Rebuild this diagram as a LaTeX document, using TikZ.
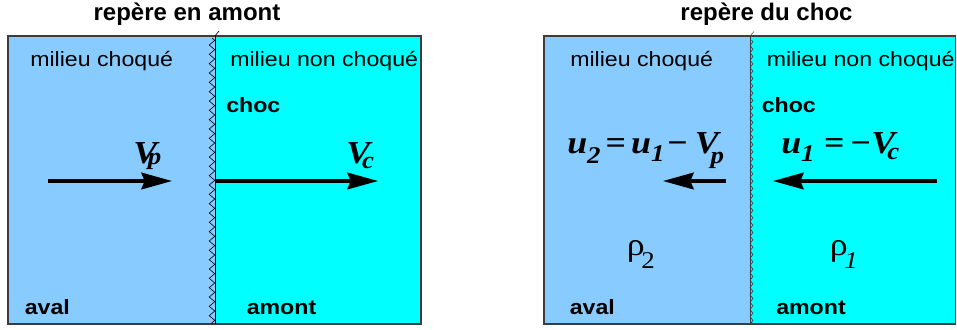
\documentclass[tikz,border=0pt]{standalone}
\usepackage{fontspec}
\setmainfont{Liberation Serif}
\newfontfamily\lsans[FakeStretch=1.12]{Liberation Sans}
\newfontfamily\tsans{Liberation Sans}
\newfontfamily\mfont[FakeStretch=1.12]{Liberation Serif}
\usetikzlibrary{arrows.meta,decorations.pathmorphing}
\definecolor{avalc}{RGB}{136,204,255}
\definecolor{amontc}{RGB}{0,255,255}
\definecolor{bord}{RGB}{60,60,60}
\newcommand\msub[2]{\raisebox{-#1}{\fontsize{18}{18}\selectfont #2}}
\newcommand\mminus{\char"2212}
\tikzset{
 lab/.style={anchor=base west, inner sep=0pt, font=\lsans\fontsize{15.5}{18}\selectfont},
 labb/.style={anchor=base west, inner sep=0pt, font=\lsans\bfseries\fontsize{15.5}{18}\selectfont},
 ttl/.style={anchor=base, inner sep=0pt, font=\tsans\bfseries\fontsize{18}{20}\selectfont},
 mth/.style={anchor=base west, inner sep=0pt, font=\mfont\bfseries\itshape\fontsize{24}{26}\selectfont},
 rho/.style={anchor=base west, inner sep=0pt, font=\mfont\fontsize{24}{26}\selectfont},
 arr/.style={line width=2.4pt, -{Stealth[length=23pt,width=12.5pt,inset=2.5pt]}},
 panel/.style={draw=bord, line width=1.1pt},
 shockline/.style={line width=0.5pt, black},
 teeth/.style={line width=0.45pt, black, decorate, decoration={zigzag, segment length=7pt, amplitude=2.1pt}},
 teethr/.style={line width=0.45pt, black!75, decorate, decoration={zigzag, segment length=5.5pt, amplitude=1.1pt}},
}
\begin{document}
\begin{tikzpicture}[x=0.75pt,y=-0.75pt]
\useasboundingbox (0,0) rectangle (957,329);
% ---------- left panel ----------
\fill[avalc] (8,36) rectangle (215,324);
\fill[amontc] (215,36) rectangle (421,324);
\draw[panel] (8,36) rectangle (421,324);
\coordinate (s1t) at (215,36);
\coordinate (s1b) at (215,324);
\coordinate (s1k) at (219,31);
\draw[shockline] (s1t) -- (s1b);
\draw[shockline] (s1t) -- (s1k);
\draw[teeth] (212,38) -- (212,324);
\node[ttl] (t1) at (187,20.5) {repère en amont};
\node[lab] (mc1) at (30,66.5) {milieu choqué};
\node[lab] (mn1) at (230,66.5) {milieu non choqué};
\node[labb] (ch1) at (226,112) {choc};
\node[labb] (av1) at (24.5,314) {aval};
\node[labb] (am1) at (246.5,314) {amont};
\coordinate (a1s) at (48,181);
\coordinate (a1e) at (172,181);
\coordinate (a2s) at (215,181);
\coordinate (a2e) at (378,181);
\draw[arr] (a1s) -- (a1e);
\draw[arr] (a2s) -- (a2e);
\node[mth] (vp) at (133,163) {V\kern-7pt\msub{1pt}{p}};
\node[mth] (vc) at (346,163) {V\kern-6pt\msub{4pt}{c}};
% ---------- right panel ----------
\fill[avalc] (544,36) rectangle (750,324);
\fill[amontc] (750,36) rectangle (955.5,324);
\draw[panel] (544,36) rectangle (955.5,324);
\coordinate (s2t) at (750,36);
\coordinate (s2b) at (750,324);
\coordinate (s2k) at (754,31.5);
\draw[line width=0.7pt, bord] (s2t) -- (s2b);
\draw[line width=0.4pt, black!70] (s2t) -- (s2k);
\draw[teethr] (751.5,40) -- (751.5,324);
\node[ttl] (t2) at (766.5,20.5) {repère du choc};
\node[lab] (mc2) at (570,66.5) {milieu choqué};
\node[lab] (mn2) at (766.5,66.5) {milieu non choqué};
\node[labb] (ch2) at (761.5,112) {choc};
\node[labb] (av2) at (569.5,314) {aval};
\node[labb] (am2) at (776,314) {amont};
\coordinate (b1s) at (726,181);
\coordinate (b1e) at (663,181);
\coordinate (b2s) at (937,181);
\coordinate (b2e) at (773,181);
\draw[arr] (b1s) -- (b1e);
\draw[arr] (b2s) -- (b2e);
\node[mth] (u2) at (567,153.3) {u\msub{7.5pt}{2}\kern3.5pt=\kern4pt u\msub{6pt}{1}\kern1.5pt\mminus\kern5pt V\kern-6pt\msub{8pt}{p}};
\node[mth] (u1) at (781,153.3) {u\msub{6pt}{1}\kern7pt=\kern4pt\mminus V\kern-6pt\msub{5pt}{c}};
\node[rho] (r2) at (626.5,255) {ρ\kern-0.1em\raisebox{-10pt}{\fontsize{18}{18}\selectfont 2}};
\node[rho] (r1) at (829.5,255) {ρ\kern-0.1em\raisebox{-10pt}{\fontsize{18}{18}\selectfont\itshape 1}};
\end{tikzpicture}
\end{document}
